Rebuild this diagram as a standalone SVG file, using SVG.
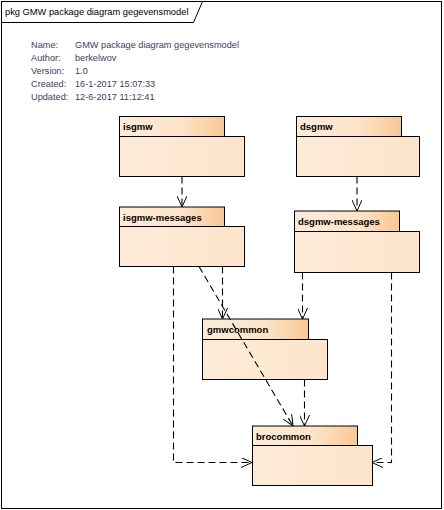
<svg xmlns="http://www.w3.org/2000/svg" width="444" height="510" viewBox="0 0 444 510">
  <defs>
    <linearGradient id="tabFill" x1="0" y1="0" x2="1" y2="0">
      <stop offset="0" stop-color="#fdecda"/>
      <stop offset="0.6" stop-color="#fde3c8"/>
      <stop offset="1" stop-color="#f9c793"/>
    </linearGradient>
    <linearGradient id="bodyFill" x1="0" y1="0" x2="1" y2="0">
      <stop offset="0" stop-color="#fdebd8"/>
      <stop offset="1" stop-color="#fde4cb"/>
    </linearGradient>
    <marker id="open" viewBox="0 0 12 10" refX="11" refY="5" markerWidth="12" markerHeight="10" markerUnits="userSpaceOnUse" orient="auto">
      <path d="M0,0 L11,5 L0,10" fill="none" stroke="#000" stroke-width="1"/>
    </marker>
  </defs>
  <style>
    .frame { fill: #fff; stroke: #000; stroke-width: 1; }
    .tab { fill: url(#tabFill); stroke: #000; stroke-width: 1; }
    .body { fill: url(#bodyFill); stroke: #000; stroke-width: 1; }
    .pname { font-family: "Liberation Sans", Arial, sans-serif; font-size: 9.5px; font-weight: bold; fill: #000; }
    .title { font-family: "Liberation Sans", Arial, sans-serif; font-size: 9.3px; fill: #000; }
    .info { font-family: "Liberation Sans", Arial, sans-serif; font-size: 9.2px; fill: #3d3d5e; }
    .dep { fill: none; stroke: #000; stroke-width: 1.1; stroke-dasharray: 7 4; marker-end: url(#open); }
  </style>

  <!-- diagram frame and title tab -->
  <rect class="frame" x="1.5" y="1.5" width="440" height="507"/>
  <path d="M1.5,22.5 H193.5 L202.5,1.5" fill="none" stroke="#000" stroke-width="1"/>
  <text class="title" x="5" y="15">pkg GMW package diagram gegevensmodel</text>

  <!-- diagram properties -->
  <g id="properties" class="info">
    <text x="31" y="48">Name:</text>
    <text x="75" y="48">GMW package diagram gegevensmodel</text>
    <text x="31" y="61">Author:</text>
    <text x="75" y="61">berkelwov</text>
    <text x="31" y="74">Version:</text>
    <text x="75" y="74">1.0</text>
    <text x="31" y="87">Created:</text>
    <text x="75" y="87">16-1-2017 15:07:33</text>
    <text x="31" y="100">Updated:</text>
    <text x="75" y="100">12-6-2017 11:12:41</text>
  </g>

  <!-- packages -->
  <g id="isgmw">
    <rect class="tab" x="119.5" y="116.5" width="105" height="20"/>
    <rect class="body" x="119.5" y="136.5" width="125" height="40"/>
    <text class="pname" x="123" y="130">isgmw</text>
  </g>
  <g id="dsgmw">
    <rect class="tab" x="296.5" y="116.5" width="105" height="20"/>
    <rect class="body" x="296.5" y="136.5" width="123" height="40"/>
    <text class="pname" x="300" y="130">dsgmw</text>
  </g>
  <g id="isgmw-messages">
    <rect class="tab" x="119.5" y="207" width="105" height="19.5"/>
    <rect class="body" x="119.5" y="226.5" width="125" height="40"/>
    <text class="pname" x="123" y="220.5">isgmw-messages</text>
  </g>
  <g id="dsgmw-messages">
    <rect class="tab" x="294.5" y="211" width="105" height="20.5"/>
    <rect class="body" x="294.5" y="231.5" width="125" height="41"/>
    <text class="pname" x="298" y="225">dsgmw-messages</text>
  </g>
  <g id="gmwcommon">
    <rect class="tab" x="202.5" y="319" width="106" height="20.5"/>
    <rect class="body" x="202.5" y="339.5" width="125" height="40"/>
    <text class="pname" x="207" y="333">gmwcommon</text>
  </g>
  <g id="brocommon">
    <rect class="tab" x="252.5" y="426" width="105" height="19.5"/>
    <rect class="body" x="252.5" y="445.5" width="120" height="40"/>
    <text class="pname" x="256" y="439.5">brocommon</text>
  </g>

  <!-- dependencies (drawn over the packages they cross) -->
  <g id="connectors">
    <path class="dep" d="M182,176.5 V207"/>
    <path class="dep" d="M357,176.5 V211"/>
    <path class="dep" d="M173.5,266.5 V462.5 H252"/>
    <path class="dep" d="M222.5,266.5 V319"/>
    <path class="dep" d="M199,266.5 L293,426"/>
    <path class="dep" d="M302.5,272.5 V319"/>
    <path class="dep" d="M391.5,272.5 V462.5 H372"/>
    <path class="dep" d="M304.5,379.5 V426"/>
  </g>
</svg>
